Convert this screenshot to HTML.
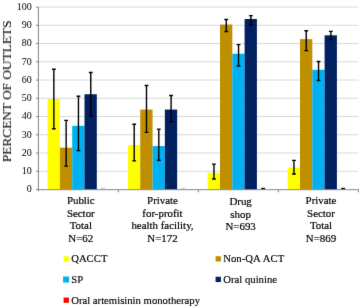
<!DOCTYPE html>
<html><head><meta charset="utf-8"><style>
html,body{margin:0;padding:0;background:#fff;width:360px;height:307px;overflow:hidden}
svg{display:block;will-change:transform}
text{font-family:"Liberation Serif",serif;fill:#000;stroke:#000;stroke-width:0.15px;}
</style></head><body>
<svg width="360" height="307" viewBox="0 0 360 307">

<defs><filter id="bl" x="0" y="0" width="360" height="307" filterUnits="userSpaceOnUse" color-interpolation-filters="sRGB"><feConvolveMatrix order="3" kernelMatrix="0.00524 0.06192 0.00524 0.06192 0.73137 0.06192 0.00524 0.06192 0.00524" edgeMode="duplicate"/></filter></defs><g filter="url(#bl)"><rect width="360" height="307" fill="#fff"/>
<line x1="38.4" y1="171.26" x2="358.4" y2="171.26" stroke="#d9d9d9" stroke-width="1"/>
<line x1="38.4" y1="153.01" x2="358.4" y2="153.01" stroke="#d9d9d9" stroke-width="1"/>
<line x1="38.4" y1="134.77" x2="358.4" y2="134.77" stroke="#d9d9d9" stroke-width="1"/>
<line x1="38.4" y1="116.53" x2="358.4" y2="116.53" stroke="#d9d9d9" stroke-width="1"/>
<line x1="38.4" y1="98.28" x2="358.4" y2="98.28" stroke="#d9d9d9" stroke-width="1"/>
<line x1="38.4" y1="80.04" x2="358.4" y2="80.04" stroke="#d9d9d9" stroke-width="1"/>
<line x1="38.4" y1="61.80" x2="358.4" y2="61.80" stroke="#d9d9d9" stroke-width="1"/>
<line x1="38.4" y1="43.56" x2="358.4" y2="43.56" stroke="#d9d9d9" stroke-width="1"/>
<line x1="38.4" y1="25.31" x2="358.4" y2="25.31" stroke="#d9d9d9" stroke-width="1"/>
<line x1="38.4" y1="7.07" x2="358.4" y2="7.07" stroke="#d9d9d9" stroke-width="1"/>
<rect x="47.60" y="98.98" width="12.3" height="90.52" fill="#FFFF00"/>
<rect x="59.90" y="147.69" width="12.3" height="41.81" fill="#BF8F00"/>
<rect x="72.20" y="125.80" width="12.3" height="63.70" fill="#00B0F0"/>
<rect x="84.50" y="94.24" width="12.3" height="95.26" fill="#002060"/>
<rect x="127.95" y="145.05" width="12.3" height="44.45" fill="#FFFF00"/>
<rect x="140.25" y="109.56" width="12.3" height="79.94" fill="#BF8F00"/>
<rect x="152.55" y="146.05" width="12.3" height="43.45" fill="#00B0F0"/>
<rect x="164.85" y="109.56" width="12.3" height="79.94" fill="#002060"/>
<rect x="207.70" y="172.87" width="12.3" height="16.63" fill="#FFFF00"/>
<rect x="220.00" y="24.55" width="12.3" height="164.95" fill="#BF8F00"/>
<rect x="232.30" y="53.74" width="12.3" height="135.76" fill="#00B0F0"/>
<rect x="244.60" y="18.99" width="12.3" height="170.51" fill="#002060"/>
<rect x="287.70" y="167.58" width="12.3" height="21.92" fill="#FFFF00"/>
<rect x="300.00" y="39.15" width="12.3" height="150.35" fill="#BF8F00"/>
<rect x="312.30" y="69.79" width="12.3" height="119.71" fill="#00B0F0"/>
<rect x="324.60" y="35.31" width="12.3" height="154.19" fill="#002060"/>
<line x1="38.4" y1="7.07" x2="38.4" y2="191.50" stroke="#868686" stroke-width="1"/>
<line x1="37.9" y1="189.70" x2="358.4" y2="189.70" stroke="#868686" stroke-width="1"/>
<line x1="36.0" y1="189.50" x2="38.4" y2="189.50" stroke="#868686" stroke-width="1"/>
<line x1="36.0" y1="171.26" x2="38.4" y2="171.26" stroke="#868686" stroke-width="1"/>
<line x1="36.0" y1="153.01" x2="38.4" y2="153.01" stroke="#868686" stroke-width="1"/>
<line x1="36.0" y1="134.77" x2="38.4" y2="134.77" stroke="#868686" stroke-width="1"/>
<line x1="36.0" y1="116.53" x2="38.4" y2="116.53" stroke="#868686" stroke-width="1"/>
<line x1="36.0" y1="98.28" x2="38.4" y2="98.28" stroke="#868686" stroke-width="1"/>
<line x1="36.0" y1="80.04" x2="38.4" y2="80.04" stroke="#868686" stroke-width="1"/>
<line x1="36.0" y1="61.80" x2="38.4" y2="61.80" stroke="#868686" stroke-width="1"/>
<line x1="36.0" y1="43.56" x2="38.4" y2="43.56" stroke="#868686" stroke-width="1"/>
<line x1="36.0" y1="25.31" x2="38.4" y2="25.31" stroke="#868686" stroke-width="1"/>
<line x1="36.0" y1="7.07" x2="38.4" y2="7.07" stroke="#868686" stroke-width="1"/>
<line x1="118.40" y1="189.5" x2="118.40" y2="192.30" stroke="#868686" stroke-width="1"/>
<line x1="198.40" y1="189.5" x2="198.40" y2="192.30" stroke="#868686" stroke-width="1"/>
<line x1="278.40" y1="189.5" x2="278.40" y2="192.30" stroke="#868686" stroke-width="1"/>
<line x1="358.40" y1="189.5" x2="358.40" y2="192.30" stroke="#868686" stroke-width="1"/>
<path d="M53.85 69.30V128.72M51.95 69.30H55.75M51.95 128.72H55.75" stroke="#000" stroke-width="1.4" fill="none"/>
<path d="M66.15 120.38V166.12M64.25 120.38H68.05M64.25 166.12H68.05" stroke="#000" stroke-width="1.4" fill="none"/>
<path d="M78.45 96.30V150.61M76.55 96.30H80.35M76.55 150.61H80.35" stroke="#000" stroke-width="1.4" fill="none"/>
<path d="M90.75 72.49V115.95M88.85 72.49H92.65M88.85 115.95H92.65" stroke="#000" stroke-width="1.4" fill="none"/>
<path d="M101.05 188.5H105.05" stroke="#c8c8c8" stroke-width="1.3" fill="none"/>
<path d="M134.20 124.21V160.83M132.30 124.21H136.10M132.30 160.83H136.10" stroke="#000" stroke-width="1.4" fill="none"/>
<path d="M146.50 85.53V132.37M144.60 85.53H148.40M144.60 132.37H148.40" stroke="#000" stroke-width="1.4" fill="none"/>
<path d="M158.80 129.13V160.28M156.90 129.13H160.70M156.90 160.28H160.70" stroke="#000" stroke-width="1.4" fill="none"/>
<path d="M171.10 95.57V121.79M169.20 95.57H173.00M169.20 121.79H173.00" stroke="#000" stroke-width="1.4" fill="none"/>
<path d="M181.40 188.5H185.40" stroke="#c8c8c8" stroke-width="1.3" fill="none"/>
<path d="M213.95 164.16V179.07M212.05 164.16H215.85M212.05 179.07H215.85" stroke="#000" stroke-width="1.4" fill="none"/>
<path d="M226.25 19.49V31.48M224.35 19.49H228.15M224.35 31.48H228.15" stroke="#000" stroke-width="1.4" fill="none"/>
<path d="M238.55 44.67V65.96M236.65 44.67H240.45M236.65 65.96H240.45" stroke="#000" stroke-width="1.4" fill="none"/>
<path d="M250.85 15.66V25.28M248.95 15.66H252.75M248.95 25.28H252.75" stroke="#000" stroke-width="1.4" fill="none"/>
<path d="M261.15 188.5H265.15" stroke="#000" stroke-width="1.3" fill="none"/>
<path d="M293.95 160.33V173.96M292.05 160.33H295.85M292.05 173.96H295.85" stroke="#000" stroke-width="1.4" fill="none"/>
<path d="M306.25 30.80V50.64M304.35 30.80H308.15M304.35 50.64H308.15" stroke="#000" stroke-width="1.4" fill="none"/>
<path d="M318.55 61.45V80.56M316.65 61.45H320.45M316.65 80.56H320.45" stroke="#000" stroke-width="1.4" fill="none"/>
<path d="M330.85 31.35V39.51M328.95 31.35H332.75M328.95 39.51H332.75" stroke="#000" stroke-width="1.4" fill="none"/>
<path d="M341.15 188.5H345.15" stroke="#000" stroke-width="1.3" fill="none"/>
<text x="31.8" y="192.30" font-size="10" text-anchor="end" style="stroke-width:0.0px">0</text>
<text x="31.8" y="174.06" font-size="10" text-anchor="end" style="stroke-width:0.0px">10</text>
<text x="31.8" y="155.81" font-size="10" text-anchor="end" style="stroke-width:0.0px">20</text>
<text x="31.8" y="137.57" font-size="10" text-anchor="end" style="stroke-width:0.0px">30</text>
<text x="31.8" y="119.33" font-size="10" text-anchor="end" style="stroke-width:0.0px">40</text>
<text x="31.8" y="101.08" font-size="10" text-anchor="end" style="stroke-width:0.0px">50</text>
<text x="31.8" y="82.84" font-size="10" text-anchor="end" style="stroke-width:0.0px">60</text>
<text x="31.8" y="64.60" font-size="10" text-anchor="end" style="stroke-width:0.0px">70</text>
<text x="31.8" y="46.36" font-size="10" text-anchor="end" style="stroke-width:0.0px">80</text>
<text x="31.8" y="28.11" font-size="10" text-anchor="end" style="stroke-width:0.0px">90</text>
<text x="31.8" y="9.87" font-size="10" text-anchor="end" style="stroke-width:0.0px">100</text>
<text transform="translate(11.0 91.4) rotate(-90)" font-size="13.3" text-anchor="middle" style="stroke-width:0.1px">PERCENT OF OUTLETS</text>
<text transform="translate(80.8 204.20) scale(1 1.04)" font-size="10.9" text-anchor="middle" style="stroke-width:0.2px">Public</text>
<text transform="translate(80.8 216.65) scale(1 1.04)" font-size="10.9" text-anchor="middle" style="stroke-width:0.2px">Sector</text>
<text transform="translate(80.8 229.10) scale(1 1.04)" font-size="10.9" text-anchor="middle" style="stroke-width:0.2px">Total</text>
<text transform="translate(80.8 241.55) scale(1 1.04)" font-size="10.9" text-anchor="middle" style="stroke-width:0.2px">N=62</text>
<text transform="translate(162.5 204.20) scale(1 1.04)" font-size="10.9" text-anchor="middle" style="stroke-width:0.2px">Private</text>
<text transform="translate(162.5 216.65) scale(1 1.04)" font-size="10.9" text-anchor="middle" style="stroke-width:0.2px">for-profit</text>
<text transform="translate(162.5 229.10) scale(1 1.04)" font-size="10.9" text-anchor="middle" style="stroke-width:0.2px">health facility,</text>
<text transform="translate(162.5 241.55) scale(1 1.04)" font-size="10.9" text-anchor="middle" style="stroke-width:0.2px">N=172</text>
<text transform="translate(240.6 205.30) scale(1 1.04)" font-size="10.9" text-anchor="middle" style="stroke-width:0.2px">Drug</text>
<text transform="translate(240.6 217.75) scale(1 1.04)" font-size="10.9" text-anchor="middle" style="stroke-width:0.2px">shop</text>
<text transform="translate(240.6 230.20) scale(1 1.04)" font-size="10.9" text-anchor="middle" style="stroke-width:0.2px">N=693</text>
<text transform="translate(321.0 204.20) scale(1 1.04)" font-size="10.9" text-anchor="middle" style="stroke-width:0.2px">Private</text>
<text transform="translate(321.0 216.65) scale(1 1.04)" font-size="10.9" text-anchor="middle" style="stroke-width:0.2px">Sector</text>
<text transform="translate(321.0 229.10) scale(1 1.04)" font-size="10.9" text-anchor="middle" style="stroke-width:0.2px">Total</text>
<text transform="translate(321.0 241.55) scale(1 1.04)" font-size="10.9" text-anchor="middle" style="stroke-width:0.2px">N=869</text>
<rect x="63.6" y="256.2" width="5.3" height="5.3" fill="#FFFF00"/>
<text x="71.2" y="261.7" font-size="10.7">QACCT</text>
<rect x="215.6" y="256.2" width="5.3" height="5.3" fill="#BF8F00"/>
<text x="223.3" y="261.7" font-size="10.7">Non-QA<tspan dx="0.6"> ACT</tspan></text>
<rect x="63.1" y="276.5" width="6.0" height="6.0" fill="#00B0F0"/>
<text x="71.2" y="282.6" font-size="10.7">SP</text>
<rect x="215.6" y="276.75" width="5.3" height="5.3" fill="#002060"/>
<text x="223.3" y="282.6" font-size="10.7">Oral quinine</text>
<rect x="63.6" y="297.55" width="5.3" height="5.3" fill="#FF0000"/>
<text x="71.2" y="303.5" font-size="10.7">Oral artemisinin monotherapy</text>
</g></svg></body></html>
